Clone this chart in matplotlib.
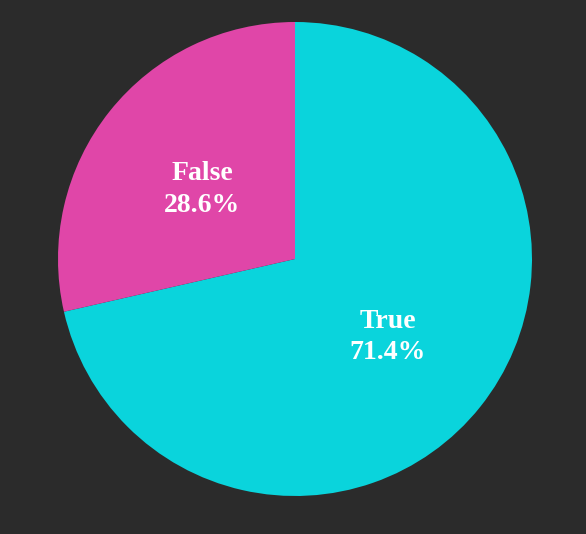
import matplotlib
matplotlib.use("Agg")
import matplotlib.pyplot as plt

labels = ["True", "False"]
values = [5, 2]
colors = ["#0AD4DC", "#E046A8"]

BG = "#2b2b2b"

fig = plt.figure(figsize=(5.86, 5.34), dpi=100, facecolor=BG)
ax = fig.add_axes([(295 - 237) / 586, (275 - 237) / 534, 474 / 586, 474 / 534])
ax.set_facecolor(BG)

pct_iter = iter(labels)


def fmt(p):
    return f"{next(pct_iter)}\n{p:.1f}%"


wedges, texts, autotexts = ax.pie(
    values, colors=colors, startangle=90, counterclock=False,
    autopct=fmt, pctdistance=0.5, wedgeprops={"linewidth": 0},
)
for t in autotexts:
    t.set_color("white")
    t.set_fontsize(20)
    t.set_fontweight("bold")
    t.set_family(["Liberation Serif", "DejaVu Serif"])
    t.set_linespacing(1.35)
    x, y = t.get_position()
    t.set_position((x, y - 0.018))   # 文字略微下移
ax.set_aspect("equal")
ax.set_xlim(-1, 1)
ax.set_ylim(-1, 1)

fig.savefig("out.png", dpi=100, facecolor=BG)
